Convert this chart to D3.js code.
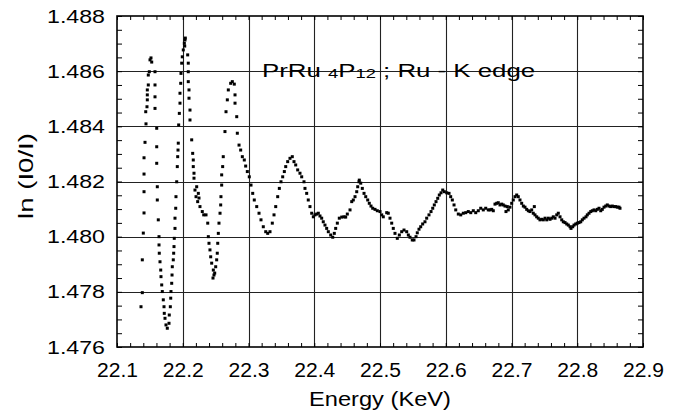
<!DOCTYPE html>
<html><head><meta charset="utf-8">
<script src="https://cdn.jsdelivr.net/npm/d3@7"></script>
<style>
html,body{margin:0;padding:0;background:#fff;}
svg{display:block;}
text{font-family:"Liberation Sans",Arial,sans-serif;fill:#000;}
</style></head>
<body>
<svg id="chart" width="682" height="417"></svg>
<script>
// ---- data ----
const energy = [
22.1365,22.1385,22.1385,22.1400,22.1411,22.1411,22.1411,22.1411,22.1426,22.1441,22.1437,22.1456,22.1461,22.1461,22.1461,22.1476,22.1476,22.1491,22.1502,22.1517,22.1528,
22.1578,22.1578,22.1578,22.1578,22.1604,22.1604,22.1604,22.1613,22.1613,22.1628,22.1639,22.1639,22.1643,22.1654,22.1665,22.1669,22.1680,22.1689,22.1704,22.1715,22.1719,22.1730,22.1745,22.1765,
22.1791,22.1795,22.1811,22.1817,22.1821,22.1832,22.1837,22.1841,22.1856,22.1862,22.1867,22.1871,22.1882,22.1882,22.1893,22.1897,22.1908,22.1917,22.1923,22.1928,22.1932,22.1938,22.1948,22.1958,22.1958,22.1969,22.1973,22.1984,22.1993,22.2008,22.2024,22.2034,22.2039,22.2030,
22.2075,22.2084,22.2084,22.2084,22.2095,22.2095,22.2110,22.2110,22.2136,22.2151,22.2160,22.2160,22.2171,22.2171,22.2186,22.2202,22.2212,22.2227,22.2237,22.2247,22.2262,22.2297,22.2319,22.2354,22.2380,22.2389,22.2399,22.2414,22.2425,22.2440,22.2460,22.2465,22.2475,22.2486,
22.2501,22.2516,22.2525,22.2532,22.2541,22.2551,22.2567,22.2577,22.2581,22.2592,22.2592,22.2607,22.2616,22.2642,22.2658,22.2678,22.2693,22.2729,22.2754,22.2784,22.2795,22.2795,22.2821,22.2830,22.2856,22.2881,22.2906,22.2936,22.2957,22.2982,
22.3012,22.3038,22.3064,22.3088,22.3125,22.3160,22.3190,22.3225,22.3262,22.3292,22.3327,22.3362,22.3388,22.3414,22.3444,22.3469,22.3494,22.3520,22.3545,22.3566,22.3596,22.3631,22.3666,22.3692,22.3718,22.3748,22.3783,22.3809,22.3844,22.3859,22.3885,22.3909,22.3935,22.3961,22.3986,
22.4011,22.4037,22.4062,22.4087,22.4113,22.4137,22.4163,22.4189,22.4214,22.4250,22.4281,22.4305,22.4326,22.4351,22.4381,22.4418,22.4453,22.4478,22.4503,22.4544,22.4570,22.4594,22.4620,22.4646,22.4661,22.4681,22.4685,22.4707,22.4731,22.4757,22.4783,22.4813,22.4837,22.4863,22.4889,22.4924,22.4959,
22.5000,22.5026,22.5050,22.5102,22.5126,22.5152,22.5178,22.5202,22.5228,22.5263,22.5294,22.5330,22.5365,22.5406,22.5431,22.5456,22.5491,22.5517,22.5548,22.5567,22.5593,22.5619,22.5649,22.5684,22.5710,22.5745,22.5776,22.5802,22.5826,22.5852,22.5878,22.5902,22.5928,22.5954,22.5978,
22.6015,22.6050,22.6075,22.6100,22.6126,22.6152,22.6191,22.6228,22.6267,22.6304,22.6343,22.6380,22.6419,22.6456,22.6495,22.6532,22.6571,22.6608,22.6647,22.6673,22.6699,22.6723,22.6749,22.6775,22.6799,22.6825,22.6851,22.6875,22.6901,22.6916,22.6936,22.6951,22.6977,
22.7003,22.7027,22.7053,22.7079,22.7103,22.7129,22.7155,22.7180,22.7205,22.7231,22.7256,22.7281,22.7307,22.7331,22.7347,22.7357,22.7383,22.7407,22.7433,22.7459,22.7484,22.7510,22.7536,22.7560,22.7586,22.7612,22.7636,22.7662,22.7688,22.7712,22.7738,22.7764,22.7788,22.7814,22.7840,22.7864,22.7890,22.7905,22.7931,22.7951,22.7977,
22.8001,22.8027,22.8053,22.8077,22.8103,22.8133,22.8153,22.8179,22.8205,22.8229,22.8255,22.8281,22.8305,22.8331,22.8357,22.8381,22.8407,22.8433,22.8457,22.8483,22.8509,22.8533,22.8559,22.8585,22.8609,22.8635,22.8650
];
const lnI0I = [
1.47746,1.47797,1.47916,1.48013,1.48086,1.48163,1.48227,1.48286,1.48342,1.48409,1.48453,1.48471,1.48496,1.48514,1.48532,1.48550,1.48586,1.48598,1.48641,1.48648,1.48633,
1.48598,1.48550,1.48507,1.48465,1.48393,1.48326,1.48266,1.48181,1.48133,1.48061,1.48000,1.47970,1.47940,1.47909,1.47879,1.47855,1.47825,1.47801,1.47771,1.47746,1.47722,1.47704,1.47680,1.47668,
1.47686,1.47716,1.47746,1.47777,1.47801,1.47831,1.47861,1.47891,1.47916,1.47940,1.47964,1.47994,1.48030,1.48067,1.48103,1.48145,1.48199,1.48254,1.48290,1.48314,1.48339,1.48405,1.48447,1.48484,1.48520,1.48556,1.48592,1.48629,1.48652,1.48677,1.48701,1.48713,1.48720,1.48691,
1.48659,1.48629,1.48598,1.48562,1.48532,1.48502,1.48459,1.48423,1.48351,1.48302,1.48278,1.48254,1.48230,1.48212,1.48169,1.48145,1.48181,1.48127,1.48157,1.48140,1.48109,1.48091,1.48079,1.48079,1.48049,1.48000,1.47976,1.47952,1.47927,1.47904,1.47850,1.47879,1.47861,1.47868,
1.47891,1.47916,1.47940,1.47976,1.48012,1.48049,1.48085,1.48115,1.48145,1.48187,1.48224,1.48254,1.48290,1.48381,1.48453,1.48496,1.48532,1.48556,1.48562,1.48553,1.48514,1.48484,1.48435,1.48375,1.48332,1.48314,1.48290,1.48278,1.48256,1.48236,
1.48217,1.48187,1.48157,1.48133,1.48109,1.48085,1.48061,1.48036,1.48018,1.48012,1.48018,1.48049,1.48079,1.48109,1.48145,1.48175,1.48199,1.48217,1.48236,1.48254,1.48272,1.48284,1.48290,1.48272,1.48260,1.48242,1.48230,1.48217,1.48199,1.48175,1.48157,1.48133,1.48109,1.48085,1.48072,
1.48079,1.48082,1.48085,1.48075,1.48067,1.48054,1.48042,1.48030,1.48018,1.48006,1.47998,1.48012,1.48030,1.48049,1.48067,1.48071,1.48072,1.48071,1.48082,1.48097,1.48127,1.48133,1.48145,1.48163,1.48181,1.48199,1.48205,1.48194,1.48175,1.48157,1.48145,1.48133,1.48121,1.48111,1.48103,1.48099,1.48094,
1.48091,1.48079,1.48072,1.48087,1.48085,1.48067,1.48049,1.48030,1.48012,1.47994,1.48006,1.48018,1.48024,1.48018,1.48006,1.47998,1.47988,1.47988,1.48000,1.48014,1.48027,1.48036,1.48046,1.48054,1.48067,1.48079,1.48091,1.48103,1.48115,1.48127,1.48139,1.48151,1.48159,1.48169,1.48163,
1.48159,1.48157,1.48145,1.48133,1.48115,1.48097,1.48082,1.48079,1.48085,1.48087,1.48091,1.48087,1.48094,1.48087,1.48094,1.48103,1.48097,1.48103,1.48097,1.48097,1.48099,1.48094,1.48118,1.48121,1.48123,1.48115,1.48118,1.48115,1.48111,1.48091,1.48109,1.48097,1.48107,
1.48121,1.48133,1.48145,1.48151,1.48145,1.48133,1.48121,1.48111,1.48107,1.48099,1.48094,1.48091,1.48097,1.48085,1.48109,1.48079,1.48072,1.48067,1.48061,1.48063,1.48061,1.48067,1.48061,1.48067,1.48063,1.48067,1.48072,1.48067,1.48079,1.48085,1.48072,1.48061,1.48054,1.48051,1.48046,1.48042,1.48036,1.48030,1.48036,1.48042,1.48046,
1.48049,1.48051,1.48054,1.48061,1.48067,1.48072,1.48079,1.48085,1.48091,1.48094,1.48097,1.48094,1.48099,1.48103,1.48094,1.48099,1.48107,1.48111,1.48115,1.48111,1.48109,1.48111,1.48109,1.48109,1.48107,1.48107,1.48103
];
const xTicks = [22.1,22.2,22.3,22.4,22.5,22.6,22.7,22.8,22.9];
const yTicks = [1.476,1.478,1.480,1.482,1.484,1.486,1.488];
const xTickLabels = ["22.1","22.2","22.3","22.4","22.5","22.6","22.7","22.8","22.9"];
const yTickLabels = ["1.476","1.478","1.480","1.482","1.484","1.486","1.488"];
const xTitle = "Energy (KeV)";
const yTitle = "ln (I0/I)";

// ---- layout ----
const L = 117, R = 643, T = 16, B = 347;
const svg = d3.select("#chart");
const x = d3.scaleLinear().domain([22.1, 22.9]).range([L, R]);
const y = d3.scaleLinear().domain([1.476, 1.488]).range([B, T]);
const xMinor = d3.range(0, 41).map(i => 22.1 + i * 0.02);
const yMinor = d3.range(0, 25).map(i => 1.476 + i * 0.0005);

// grid
svg.append("g").selectAll("line").data(xTicks.slice(1, -1)).join("line")
  .attr("x1", d => Math.round(x(d)) + 0.5).attr("x2", d => Math.round(x(d)) + 0.5)
  .attr("y1", T).attr("y2", B).attr("stroke", "#222").attr("stroke-width", 1.1);
svg.append("g").selectAll("line").data(yTicks.slice(1, -1)).join("line")
  .attr("y1", d => Math.round(y(d)) + 0.5).attr("y2", d => Math.round(y(d)) + 0.5)
  .attr("x1", L).attr("x2", R).attr("stroke", "#222").attr("stroke-width", 1.1);

// minor ticks (inward) on all four sides
const tk = svg.append("g").attr("stroke", "#000").attr("stroke-width", 1);
tk.append("g").attr("transform", `translate(0,${B})`)
  .call(d3.axisBottom(x).tickValues(xMinor).tickSizeInner(-4).tickSizeOuter(0).tickFormat(""));
tk.append("g").attr("transform", `translate(0,${T})`)
  .call(d3.axisTop(x).tickValues(xMinor).tickSizeInner(-4).tickSizeOuter(0).tickFormat(""));
tk.append("g").attr("transform", `translate(${L},0)`)
  .call(d3.axisLeft(y).tickValues(yMinor).tickSizeInner(-5).tickSizeOuter(0).tickFormat(""));
tk.append("g").attr("transform", `translate(${R},0)`)
  .call(d3.axisRight(y).tickValues(yMinor).tickSizeInner(-5).tickSizeOuter(0).tickFormat(""));
tk.selectAll(".domain").remove();
tk.selectAll("line").attr("stroke", "#000");

// frame
svg.append("rect").attr("x", L).attr("y", T).attr("width", R - L).attr("height", B - T)
  .attr("fill", "none").attr("stroke", "#000").attr("stroke-width", 1.6);

// tick labels
const xl = svg.append("g").attr("transform", `translate(0,${B})`)
  .call(d3.axisBottom(x).tickValues(xTicks).tickSize(0).tickPadding(16)
    .tickFormat((d, i) => xTickLabels[i]));
xl.select(".domain").remove();
xl.selectAll("text").attr("font-size", 20).attr("font-family", "Liberation Sans, Arial, sans-serif")
  .attr("textLength", 41).attr("lengthAdjust", "spacingAndGlyphs").attr("fill", "#000");

const yl = svg.append("g").attr("transform", `translate(${L},0)`)
  .call(d3.axisLeft(y).tickValues(yTicks).tickSize(0).tickPadding(12)
    .tickFormat((d, i) => yTickLabels[i]));
yl.select(".domain").remove();
yl.selectAll("text").attr("font-size", 19).attr("font-family", "Liberation Sans, Arial, sans-serif")
  .attr("textLength", 58).attr("lengthAdjust", "spacingAndGlyphs").attr("fill", "#000");

// axis titles
svg.append("text").attr("x", (L + R) / 2).attr("y", 406).attr("text-anchor", "middle")
  .attr("font-size", 21).attr("textLength", 142).attr("lengthAdjust", "spacingAndGlyphs").text(xTitle);
svg.append("text").attr("transform", `translate(33,176) rotate(-90)`).attr("text-anchor", "middle")
  .attr("font-size", 20).attr("textLength", 86).attr("lengthAdjust", "spacingAndGlyphs").text(yTitle);

// in-plot title
const tg = svg.append("g").attr("transform", "translate(262,77) scale(1.36,1)");
const tt = tg.append("text").attr("font-size", 19);
tt.append("tspan").text("PrRu ");
tt.append("tspan").attr("font-size", 13.5).attr("dy", 1).text("4");
tt.append("tspan").attr("dy", -1).text("P");
tt.append("tspan").attr("font-size", 13.5).attr("dy", 1).text("12");
tt.append("tspan").attr("dy", -1).text(" ; Ru - K edge");

// data points
svg.append("g").selectAll("rect").data(energy.map((e, i) => [e, lnI0I[i]])).join("rect")
  .attr("x", d => x(d[0]) - 1.5).attr("y", d => y(d[1]) - 1.5)
  .attr("width", 3).attr("height", 3).attr("fill", "#000");
</script>
</body></html>
